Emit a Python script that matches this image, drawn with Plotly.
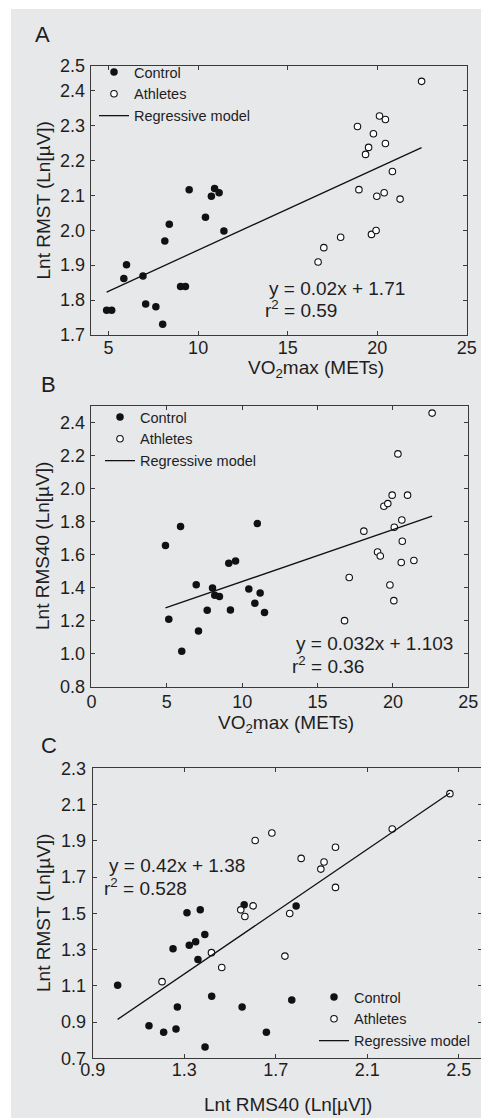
import plotly.graph_objects as go

# The page body adds an 8px margin, so the figure is sized to fill the rest
# of the 489x1118 window and all reference pixel positions are shifted by it.
OX, OY = 8, 8
W, H = 489 - OX, 1118 - OY

# ---------------- data ----------------
# Panel A: VO2max (METs) vs Lnt RMST
a_ctrl_x = [9.5, 10.92, 11.17, 10.74, 10.41, 8.39, 11.44, 8.14, 6.0, 5.85, 6.92, 9.02, 9.29, 4.89, 5.17, 7.07, 7.64, 8.02]
a_ctrl_y = [2.116, 2.119, 2.107, 2.097, 2.037, 2.017, 1.998, 1.969, 1.901, 1.862, 1.869, 1.839, 1.839, 1.771, 1.771, 1.789, 1.781, 1.731]
a_ath_x = [22.48, 20.13, 20.46, 18.9, 19.79, 19.52, 19.35, 20.46, 20.85, 18.98, 19.98, 20.39, 21.28, 19.68, 19.94, 17.96, 17.02, 16.7]
a_ath_y = [2.426, 2.327, 2.317, 2.297, 2.276, 2.237, 2.217, 2.248, 2.168, 2.116, 2.097, 2.107, 2.089, 1.988, 1.999, 1.98, 1.95, 1.909]
a_fit = (0.0235, 1.708)
a_eq = ["y = 0.02x + 1.71", "r<sup>2</sup> = 0.59"]

# Panel B: VO2max (METs) vs Lnt RMS40
b_ctrl_x = [4.91, 5.91, 11.0, 9.11, 9.56, 6.95, 8.03, 8.18, 8.49, 10.44, 11.19, 10.84, 11.48, 7.68, 9.22, 5.13, 7.1, 5.99]
b_ctrl_y = [1.655, 1.770, 1.788, 1.548, 1.562, 1.418, 1.398, 1.354, 1.346, 1.392, 1.368, 1.305, 1.249, 1.263, 1.265, 1.208, 1.138, 1.014]
b_ath_x = [22.6, 20.33, 19.95, 20.97, 19.4, 19.66, 20.59, 20.09, 18.07, 20.62, 18.98, 19.16, 20.55, 21.39, 17.1, 19.8, 20.06, 16.79]
b_ath_y = [2.457, 2.210, 1.960, 1.960, 1.893, 1.909, 1.810, 1.766, 1.742, 1.681, 1.616, 1.592, 1.552, 1.564, 1.461, 1.416, 1.321, 1.200]
b_fit = (0.0314, 1.123)
b_eq = ["y = 0.032x + 1.103", "r<sup>2</sup> = 0.36"]

# Panel C: Lnt RMS40 vs Lnt RMST
c_ctrl_x = [1.312, 1.37, 1.562, 1.789, 1.39, 1.251, 1.322, 1.35, 1.36, 1.009, 1.42, 1.27, 1.553, 1.77, 1.146, 1.21, 1.264, 1.659, 1.391]
c_ctrl_y = [1.503, 1.519, 1.547, 1.540, 1.383, 1.304, 1.324, 1.343, 1.245, 1.103, 1.043, 0.983, 0.983, 1.022, 0.880, 0.844, 0.862, 0.844, 0.763]
c_ath_x = [2.461, 2.209, 1.683, 1.61, 1.961, 1.811, 1.911, 1.897, 1.961, 1.601, 1.547, 1.565, 1.761, 1.419, 1.464, 1.203, 1.74]
c_ath_y = [2.160, 1.965, 1.943, 1.902, 1.864, 1.803, 1.783, 1.744, 1.643, 1.541, 1.519, 1.482, 1.499, 1.283, 1.201, 1.123, 1.264]
c_fit = (0.86, 0.047)
c_eq = ["y = 0.42x + 1.38", "r<sup>2</sup> = 0.528"]

a_yticks = [1.7, 1.8, 1.9, 2.0, 2.1, 2.2, 2.3, 2.4, 2.47]
a_yticktext = ["1.7", "1.8", "1.9", "2.0", "2.1", "2.2", "2.3", "2.4", "2.5"]
ab_xticks = [0, 5, 10, 15, 20, 25]
b_yticks = [0.8, 1.0, 1.2, 1.4, 1.6, 1.8, 2.0, 2.2, 2.4]
c_xticks = [0.9, 1.3, 1.7, 2.1, 2.5]
c_yticks = [0.7, 0.9, 1.1, 1.3, 1.5, 1.7, 1.9, 2.1, 2.3]

series_names = ["Control", "Athletes", "Regressive model"]
panel_letters = ["A", "B", "C"]
vo2_title = "VO<sub>2</sub>max (METs)"
rmst_title = "Lnt RMST (Ln[µV])"
rms40_title = "Lnt RMS40 (Ln[µV])"

# ---------------- style ----------------
FONT = "Liberation Sans, Arial, Helvetica, sans-serif"
TXT = "#1e1e1e"
BG = "#e7e8ea"
AX = "#3a3a3a"


def px(x):
    return (x - OX) / W


def py(y):
    return 1 - (y - OY) / H


fig = go.Figure()

panels = [
    (a_ctrl_x, a_ctrl_y, a_ath_x, a_ath_y, a_fit, "x", "y", "legend"),
    (b_ctrl_x, b_ctrl_y, b_ath_x, b_ath_y, b_fit, "x2", "y2", "legend2"),
    (c_ctrl_x, c_ctrl_y, c_ath_x, c_ath_y, c_fit, "x3", "y3", "legend3"),
]

for cx, cy, ax_, ay_, fit, xa, ya, lg in panels:
    fig.add_trace(go.Scatter(
        x=cx, y=cy, mode="markers", name=series_names[0], legend=lg,
        xaxis=xa, yaxis=ya,
        marker=dict(symbol="circle", size=7.5, color="#111111", line=dict(width=0)),
    ))
    fig.add_trace(go.Scatter(
        x=ax_, y=ay_, mode="markers", name=series_names[1], legend=lg,
        xaxis=xa, yaxis=ya,
        marker=dict(symbol="circle", size=6.5, color="#ffffff", line=dict(width=1.1, color="#111111")),
    ))
    allx = list(cx) + list(ax_)
    x0, x1 = min(allx), max(allx)
    m, b = fit
    fig.add_trace(go.Scatter(
        x=[x0, x1], y=[m * x0 + b, m * x1 + b], mode="lines", name=series_names[2], legend=lg,
        xaxis=xa, yaxis=ya,
        line=dict(color="#111111", width=1.3),
    ))


def axis(domain, rng, tickvals, ticktext=None, fmt=None, anchor=None, standoff=0):
    d = dict(
        domain=domain, range=rng, tickvals=tickvals, showgrid=False, zeroline=False,
        showline=True, linecolor=AX, linewidth=1.3, mirror="ticks",
        ticks="inside", ticklen=4, tickwidth=1, tickcolor=AX, automargin=False,
        tickfont=dict(family=FONT, size=18, color=TXT), anchor=anchor,
        ticklabelstandoff=standoff,
    )
    if ticktext is not None:
        d["ticktext"] = ticktext
    if fmt is not None:
        d["tickformat"] = fmt
    return d


YS = 1
layout = dict(
    template="none",
    width=W, height=H, margin=dict(l=0, r=0, t=0, b=0, pad=0, autoexpand=False),
    paper_bgcolor="white", plot_bgcolor=BG,
    font=dict(family=FONT, color=TXT),
    xaxis=axis([px(90.7), px(466.7)], [4, 25], ab_xticks[1:], anchor="y", standoff=-4),
    yaxis=axis([py(335), py(66)], [1.7, 2.47], a_yticks, a_yticktext, anchor="x", standoff=YS),
    xaxis2=axis([px(90.7), px(468.3)], [-0.05, 25], ab_xticks, anchor="y2", standoff=-1),
    yaxis2=axis([py(686.7), py(406)], [0.8, 2.5], b_yticks, fmt=".1f", anchor="x2", standoff=YS),
    xaxis3=axis([px(92.7), px(481.7)], [0.9, 2.6], c_xticks, fmt=".1f", anchor="y3", standoff=-5),
    yaxis3=axis([py(1058.3), py(768.3)], [0.7, 2.3], c_yticks, fmt=".1f", anchor="x3", standoff=2),
)

leg_common = dict(bgcolor="rgba(0,0,0,0)", borderwidth=0, xanchor="left", yanchor="top",
                  font=dict(family=FONT, size=14.5, color=TXT), itemwidth=30)
layout["legend"] = dict(leg_common, x=px(94), y=py(56))
layout["legend2"] = dict(leg_common, x=px(100), y=py(401))
layout["legend3"] = dict(leg_common, x=px(314), y=py(981))

fig.update_layout(**layout)

# grey panel background
fig.add_shape(type="rect", xref="paper", yref="paper", x0=px(11), x1=1, y0=0, y1=py(9),
              fillcolor=BG, line=dict(width=0), layer="below")

ann = []
# panel letters
for letter, (lx, ly) in zip(panel_letters, [(33, 35), (39, 384), (39, 745)]):
    ann.append(dict(text=letter, x=px(lx), y=py(ly), xanchor="left", yanchor="middle",
                    font=dict(size=22)))
# x titles
for t, (tx, ty) in zip([vo2_title, vo2_title, rms40_title], [(316, 369), (285.5, 724), (288.3, 1104)]):
    ann.append(dict(text=t, x=px(tx), y=py(ty), xanchor="center", yanchor="middle",
                    font=dict(size=19)))
# y titles
for t, (tx, ty) in zip([rmst_title, rms40_title, rmst_title], [(43, 200.5), (43, 546), (43, 913)]):
    ann.append(dict(text=t, x=px(tx), y=py(ty), xanchor="center", yanchor="middle",
                    textangle=-90, font=dict(size=19)))
# equations
for eq, (e1x, e1y), (e2x, e2y) in [
    (a_eq, (267, 288), (263, 309)),
    (b_eq, (293.5, 643.5), (289.5, 665)),
    (c_eq, (106.5, 865), (102, 887)),
]:
    ann.append(dict(text=eq[0], x=px(e1x), y=py(e1y), xanchor="left", yanchor="middle",
                    font=dict(size=19)))
    ann.append(dict(text=eq[1], x=px(e2x), y=py(e2y), xanchor="left", yanchor="middle",
                    font=dict(size=19)))
for a in ann:
    a.update(xref="paper", yref="paper", showarrow=False)
    a["font"].update(family=FONT, color=TXT)
fig.update_layout(annotations=ann)

fig.write_html("out.html")
